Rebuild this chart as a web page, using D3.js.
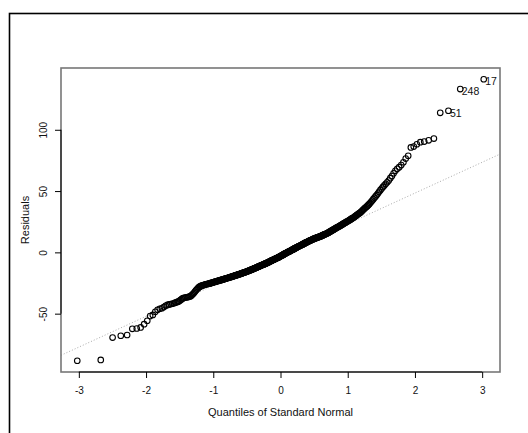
<!DOCTYPE html>
<html>
<head>
<meta charset="utf-8">
<script src="https://cdn.jsdelivr.net/npm/d3@7"></script>
<style>
  html, body { margin: 0; padding: 0; background: #fff; }
  svg { display: block; }
</style>
</head>
<body>
<script>
// Sorted model residuals (n = 400)
const residuals = [
  -88.4,-87.7,-69.5,-68.0,-67.4,-62.4,-62.1,-61.2,-58.6,-55.8,
  -52.0,-51.0,-48.5,-46.8,-46.0,-45.6,-44.6,-43.6,-42.9,-42.5,
  -42.2,-41.9,-41.5,-41.0,-40.6,-40.2,-39.6,-38.8,-38.0,-37.4,
  -37.0,-36.8,-36.6,-36.5,-36.3,-36.0,-35.5,-34.8,-34.0,-33.2,
  -32.2,-31.2,-30.3,-29.5,-28.8,-28.2,-27.8,-27.4,-27.1,-26.9,
  -26.7,-26.5,-26.3,-26.1,-25.9,-25.8,-25.6,-25.4,-25.3,-25.1,
  -24.9,-24.8,-24.6,-24.4,-24.2,-24.1,-23.9,-23.8,-23.6,-23.4,
  -23.3,-23.1,-23.0,-22.8,-22.7,-22.5,-22.4,-22.2,-22.1,-21.9,
  -21.8,-21.6,-21.5,-21.3,-21.2,-21.0,-20.9,-20.7,-20.6,-20.4,
  -20.3,-20.1,-20.0,-19.8,-19.7,-19.5,-19.4,-19.3,-19.1,-19.0,
  -18.8,-18.7,-18.6,-18.4,-18.3,-18.1,-18.0,-17.9,-17.7,-17.6,
  -17.5,-17.3,-17.2,-17.0,-16.9,-16.7,-16.6,-16.5,-16.3,-16.2,
  -16.0,-15.9,-15.7,-15.6,-15.4,-15.3,-15.1,-15.0,-14.8,-14.6,
  -14.5,-14.3,-14.2,-14.0,-13.9,-13.7,-13.6,-13.4,-13.2,-13.1,
  -12.9,-12.8,-12.6,-12.4,-12.3,-12.1,-12.0,-11.8,-11.6,-11.5,
  -11.3,-11.2,-11.0,-10.8,-10.7,-10.5,-10.4,-10.2,-10.1,-9.9,
  -9.8,-9.6,-9.4,-9.3,-9.1,-9.0,-8.8,-8.7,-8.5,-8.3,
  -8.2,-8.0,-7.8,-7.7,-7.5,-7.3,-7.1,-7.0,-6.8,-6.6,
  -6.5,-6.3,-6.1,-6.0,-5.8,-5.6,-5.5,-5.3,-5.1,-5.0,
  -4.8,-4.6,-4.4,-4.3,-4.1,-3.9,-3.7,-3.6,-3.4,-3.2,
  -3.0,-2.8,-2.6,-2.4,-2.3,-2.1,-1.9,-1.7,-1.5,-1.3,
  -1.1,-0.9,-0.8,-0.6,-0.4,-0.2,0.0,0.2,0.4,0.6,
  0.7,0.9,1.1,1.3,1.5,1.7,1.9,2.1,2.2,2.4,
  2.6,2.8,3.0,3.2,3.4,3.6,3.7,3.9,4.1,4.3,
  4.5,4.7,4.9,5.1,5.2,5.4,5.6,5.8,6.0,6.2,
  6.4,6.5,6.7,6.9,7.1,7.3,7.5,7.7,7.9,8.1,
  8.2,8.4,8.6,8.8,9.0,9.2,9.3,9.5,9.7,9.9,
  10.1,10.3,10.5,10.6,10.8,11.0,11.2,11.3,11.5,11.6,
  11.8,11.9,12.1,12.2,12.3,12.5,12.6,12.8,12.9,13.1,
  13.2,13.4,13.6,13.8,14.0,14.2,14.4,14.6,14.8,15.0,
  15.2,15.4,15.6,15.8,16.1,16.3,16.6,16.9,17.1,17.4,
  17.7,17.9,18.2,18.5,18.7,19.0,19.3,19.6,19.9,20.2,
  20.5,20.7,21.0,21.3,21.6,21.9,22.2,22.5,22.8,23.2,
  23.5,23.8,24.1,24.4,24.8,25.1,25.4,25.8,26.2,26.5,
  26.9,27.3,27.7,28.0,28.4,28.8,29.3,29.8,30.3,30.8,
  31.3,31.8,32.3,32.8,33.5,34.2,34.9,35.6,36.3,37.0,
  37.7,38.5,39.3,40.2,41.2,42.3,43.4,44.5,45.6,46.8,
  48.0,49.4,50.7,52.0,53.4,54.6,55.9,57.2,58.6,60.5,
  62.3,64.5,66.5,68.2,69.5,71.2,73.5,76.5,78.8,85.6,
  86.3,88.2,89.9,90.4,91.4,92.8,113.8,115.5,133.2,141.2
];

// Observations flagged on the plot: rank in the sorted residuals and observation id
const labelRanks = [400, 399, 398];
const labelIds = ["17", "248", "51"];

const xTicks = [-3, -2, -1, 0, 1, 2, 3];
const yTicks = [-50, 0, 50, 100];
const xTitle = "Quantiles of Standard Normal";
const yTitle = "Residuals";

// Inverse standard normal CDF (Acklam's rational approximation)
function qnorm(p) {
  const a = [-3.969683028665376e+01, 2.209460984245205e+02, -2.759285104469687e+02,
             1.383577518672690e+02, -3.066479806614716e+01, 2.506628277459239e+00];
  const b = [-5.447609879822406e+01, 1.615858368580409e+02, -1.556989798598866e+02,
             6.680131188771972e+01, -1.328068155288572e+01];
  const c = [-7.784894002430293e-03, -3.223964580411365e-01, -2.400758277161838e+00,
             -2.549732539343734e+00, 4.374664141464968e+00, 2.938163982698783e+00];
  const d = [7.784695709041462e-03, 3.224671290700398e-01, 2.445134137142996e+00,
             3.754408661907416e+00];
  const plow = 0.02425, phigh = 1 - plow;
  let q, r;
  if (p < plow) {
    q = Math.sqrt(-2 * Math.log(p));
    return (((((c[0]*q+c[1])*q+c[2])*q+c[3])*q+c[4])*q+c[5]) /
           ((((d[0]*q+d[1])*q+d[2])*q+d[3])*q+1);
  }
  if (p <= phigh) {
    q = p - 0.5; r = q * q;
    return (((((a[0]*r+a[1])*r+a[2])*r+a[3])*r+a[4])*r+a[5])*q /
           (((((b[0]*r+b[1])*r+b[2])*r+b[3])*r+b[4])*r+1);
  }
  q = Math.sqrt(-2 * Math.log(1 - p));
  return -(((((c[0]*q+c[1])*q+c[2])*q+c[3])*q+c[4])*q+c[5]) /
          ((((d[0]*q+d[1])*q+d[2])*q+d[3])*q+1);
}

const W = 528, H = 433;
const box = { left: 61, top: 68, right: 500, bottom: 372 };
const font = "'Liberation Sans', Arial, Helvetica, sans-serif";

const sorted = residuals.slice().sort(d3.ascending);
const n = sorted.length;
// plotting positions (i - 1/2) / n
const points = sorted.map((v, i) => ({ q: qnorm((i + 0.5) / n), r: v, rank: i + 1 }));

// axis limits padded by 4% on each side
function padded(ext) {
  const span = ext[1] - ext[0];
  return [ext[0] - 0.04 * span, ext[1] + 0.04 * span];
}

const x = d3.scaleLinear().domain(padded(d3.extent(points, d => d.q))).range([box.left, box.right]);
const y = d3.scaleLinear().domain(padded(d3.extent(points, d => d.r))).range([box.bottom, box.top]);

// reference line through the first and third quartiles
const q1 = d3.quantileSorted(sorted, 0.25), q3 = d3.quantileSorted(sorted, 0.75);
const z1 = qnorm(0.25), z3 = qnorm(0.75);
const slope = (q3 - q1) / (z3 - z1);
const intercept = q1 - slope * z1;

const svg = d3.select("body").append("svg")
  .attr("width", W).attr("height", H)
  .attr("viewBox", `0 0 ${W} ${H}`);

svg.append("rect").attr("width", W).attr("height", H).attr("fill", "#fff");

// outer figure frame
svg.append("rect")
  .attr("x", 9.5).attr("y", 13.5)
  .attr("width", W + 20).attr("height", H + 20)
  .attr("fill", "none").attr("stroke", "#000").attr("stroke-width", 1.6);

svg.append("clipPath").attr("id", "plot-clip")
  .append("rect")
  .attr("x", box.left).attr("y", box.top)
  .attr("width", box.right - box.left).attr("height", box.bottom - box.top);

// dotted reference line
const xd = x.domain();
svg.append("line")
  .attr("clip-path", "url(#plot-clip)")
  .attr("x1", x(xd[0])).attr("y1", y(intercept + slope * xd[0]))
  .attr("x2", x(xd[1])).attr("y2", y(intercept + slope * xd[1]))
  .attr("stroke", "#aaa").attr("stroke-width", 1)
  .attr("stroke-dasharray", "1,2");

// points
svg.append("g")
  .selectAll("circle")
  .data(points)
  .join("circle")
  .attr("cx", d => x(d.q))
  .attr("cy", d => y(d.r))
  .attr("r", 2.8)
  .attr("fill", "none")
  .attr("stroke", "#000")
  .attr("stroke-width", 1.1);

// labels for flagged observations
svg.append("g")
  .selectAll("text")
  .data(labelRanks.map((rk, i) => ({ p: points[rk - 1], id: labelIds[i] })))
  .join("text")
  .attr("x", d => x(d.p.q) + 1.5)
  .attr("y", d => y(d.p.r) + 6)
  .attr("font-family", font)
  .attr("font-size", 10.5)
  .attr("fill", "#111")
  .text(d => d.id);

// plot box
svg.append("rect")
  .attr("x", box.left).attr("y", box.top)
  .attr("width", box.right - box.left).attr("height", box.bottom - box.top)
  .attr("fill", "none").attr("stroke", "#777").attr("stroke-width", 1.6);

// x axis
const gx = svg.append("g")
  .attr("transform", `translate(0,${box.bottom})`)
  .call(d3.axisBottom(x).tickValues(xTicks).tickSize(6).tickPadding(9)
    .tickFormat(d => String(d)));
gx.select(".domain").remove();
gx.selectAll("line").attr("stroke", "#000");
gx.selectAll("text").attr("font-family", font).attr("font-size", 10).attr("fill", "#111");
gx.append("line")
  .attr("x1", x(xTicks[0])).attr("x2", x(xTicks[xTicks.length - 1]))
  .attr("stroke", "#000").attr("stroke-width", 1);

// y axis, labels parallel to the axis
const gy = svg.append("g")
  .attr("transform", `translate(${box.left},0)`)
  .call(d3.axisLeft(y).tickValues(yTicks).tickSize(6)
    .tickFormat(d => String(d)));
gy.select(".domain").remove();
gy.selectAll("line").attr("stroke", "#000");
gy.selectAll("text")
  .attr("x", null).attr("dy", null)
  .attr("transform", "translate(-14,0) rotate(-90)")
  .attr("text-anchor", "middle")
  .attr("font-family", font).attr("font-size", 10).attr("fill", "#111");
gy.append("line")
  .attr("y1", y(yTicks[0])).attr("y2", y(yTicks[yTicks.length - 1]))
  .attr("stroke", "#000").attr("stroke-width", 1);

// axis titles
svg.append("text")
  .attr("x", (box.left + box.right) / 2).attr("y", 416)
  .attr("text-anchor", "middle")
  .attr("font-family", font).attr("font-size", 11).attr("fill", "#111")
  .text(xTitle);

svg.append("text")
  .attr("transform", `translate(29,${(box.top + box.bottom) / 2}) rotate(-90)`)
  .attr("text-anchor", "middle")
  .attr("font-family", font).attr("font-size", 11).attr("fill", "#111")
  .text(yTitle);
</script>
</body>
</html>
